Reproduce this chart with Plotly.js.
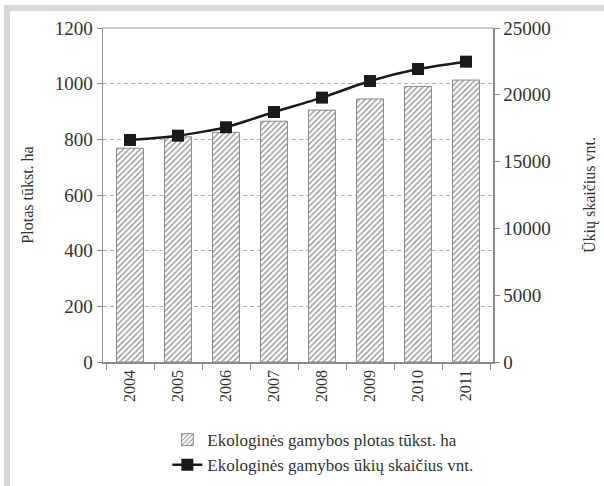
<!DOCTYPE html>
<html>
<head>
<meta charset="utf-8">
<script src="https://cdn.plot.ly/plotly-3.0.1.min.js"></script>
<style>
html,body{margin:0;padding:0;background:#fff;}
#wrap{position:relative;width:604px;height:486px;overflow:hidden;}
#frame{position:absolute;left:4px;top:5px;width:620px;height:500px;border-left:6px solid #d6d8da;border-top:6px solid #d6d8da;box-sizing:border-box;pointer-events:none;}
#chart{position:absolute;left:0;top:0;width:604px;height:486px;}
</style>
</head>
<body>
<div id="wrap">
<div id="chart"></div>
<div id="frame"></div>
</div>
<script>
var years = ['2004','2005','2006','2007','2008','2009','2010','2011'];
var areaThousandHa = [768, 809, 825, 865, 905, 945, 990, 1013];
var farmsCount = [16620, 16940, 17570, 18710, 19790, 21030, 21930, 22480];
var areaName = 'Ekologinės gamybos plotas tūkst. ha';
var farmsName = 'Ekologinės gamybos ūkių skaičius vnt.';
var leftTitle = 'Plotas tūkst. ha';
var rightTitle = 'Ūkių skaičius vnt.';

var serif = 'Liberation Serif';

var traces = [
  {
    type: 'bar',
    x: years,
    y: areaThousandHa,
    name: areaName,
    yaxis: 'y',
    marker: {
      color: '#ffffff',
      line: {color: '#8a8a8a', width: 1},
      pattern: {shape: '/', fgcolor: '#8a8a8a', bgcolor: '#ffffff', size: 4, solidity: 0.3}
    }
  },
  {
    type: 'scatter',
    mode: 'lines+markers',
    x: years,
    y: farmsCount,
    name: farmsName,
    yaxis: 'y2',
    line: {color: '#1a1a1a', width: 2.5, shape: 'spline', smoothing: 0.6},
    marker: {symbol: 'square', size: 12, color: '#1a1a1a'}
  }
];

var layout = {
  width: 604,
  height: 486,
  margin: {l: 103, r: 111, t: 28, b: 124, autoexpand: false},
  paper_bgcolor: '#ffffff',
  plot_bgcolor: '#ffffff',
  bargap: 0.44,
  showlegend: true,
  font: {family: serif, color: '#333333'},
  xaxis: {
    type: 'category',
    automargin: false,
    tickangle: -90,
    tickfont: {family: serif, size: 16, color: '#333333'},
    showline: true,
    linecolor: '#8c8c8c',
    linewidth: 1.5,
    ticks: 'outside',
    tickson: 'boundaries',
    ticklen: 6,
    tickcolor: '#8c8c8c',
    showgrid: false,
    zeroline: false
  },
  yaxis: {
    automargin: false,
    range: [0, 1200],
    dtick: 200,
    tickfont: {family: serif, size: 19, color: '#333333'},
    showline: true,
    linecolor: '#8c8c8c',
    linewidth: 1.5,
    ticks: 'outside',
    ticklen: 5,
    tickcolor: '#8c8c8c',
    showgrid: true,
    gridcolor: '#b0b0b0',
    griddash: '4px,3px',
    gridwidth: 1,
    zeroline: false,
    title: {text: leftTitle, font: {family: serif, size: 16, color: '#333333'}, standoff: 17}
  },
  yaxis2: {
    automargin: false,
    overlaying: 'y',
    side: 'right',
    range: [0, 25000],
    dtick: 5000,
    tickformat: 'd',
    tickfont: {family: serif, size: 19, color: '#333333'},
    showline: true,
    linecolor: '#8c8c8c',
    linewidth: 1.5,
    ticks: 'outside',
    ticklen: 5,
    tickcolor: '#8c8c8c',
    showgrid: false,
    zeroline: false,
    title: {text: rightTitle, font: {family: serif, size: 16, color: '#333333'}, standoff: 34}
  },
  shapes: [
    {type: 'line', xref: 'paper', yref: 'paper', x0: 0, x1: 1, y0: 1, y1: 1, line: {color: '#9a9a9a', width: 1}}
  ],
  legend: {
    orientation: 'v',
    x: 0.165,
    y: -0.18,
    xanchor: 'left',
    yanchor: 'top',
    font: {family: serif, size: 17, color: '#333333'},
    bgcolor: 'rgba(0,0,0,0)',
    tracegroupgap: 2
  }
};

Plotly.newPlot('chart', traces, layout, {displayModeBar: false, staticPlot: true});
</script>
</body>
</html>
